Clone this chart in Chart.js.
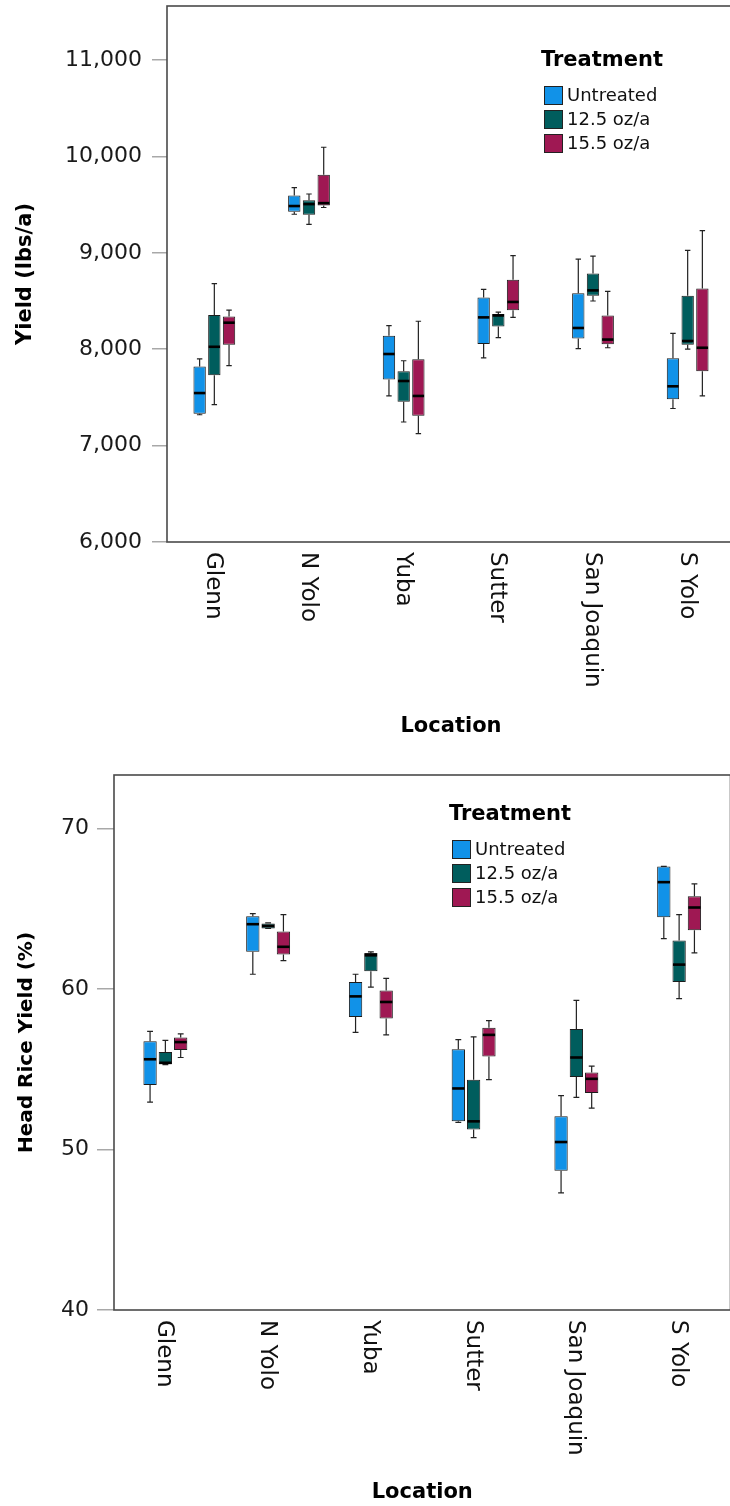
<!DOCTYPE html>
<html><head><meta charset="utf-8">
<script src="https://cdn.jsdelivr.net/npm/chart.js@4.4.1/dist/chart.umd.min.js"></script>
<style>
html,body{margin:0;padding:0;background:#fff;overflow:hidden;width:730px;height:1506px;position:relative;}
canvas{position:absolute;left:0;display:block;}
#c1{top:0}
#c2{top:755px}
</style></head><body>
<canvas id="c1" width="740" height="755"></canvas>
<canvas id="c2" width="740" height="751"></canvas>
<script>
// ---------- data ----------
const locations = ['Glenn', 'N Yolo', 'Yuba', 'Sutter', 'San Joaquin', 'S Yolo'];
const treatments = ['Untreated', '12.5 oz/a', '15.5 oz/a'];

// Chart 1: Yield (lbs/a)
const yieldTicks = [6000, 7000, 8000, 9000, 10000, 11000];
const yieldUntreatedMin = [7320, 9400, 7515, 7910, 8005, 7385];
const yieldUntreatedQ1  = [7330, 9425, 7685, 8055, 8110, 7480];
const yieldUntreatedMed = [7545, 9485, 7950, 8330, 8220, 7615];
const yieldUntreatedQ3  = [7820, 9595, 8140, 8535, 8580, 7905];
const yieldUntreatedMax = [7900, 9675, 8245, 8620, 8935, 8165];

const yield125Min = [7425, 9295, 7245, 8120, 8500, 8000];
const yield125Q1  = [7730, 9395, 7455, 8235, 8555, 8045];
const yield125Med = [8025, 9505, 7670, 8350, 8610, 8085];
const yield125Q3  = [8355, 9545, 7770, 8365, 8785, 8555];
const yield125Max = [8680, 9610, 7880, 8385, 8965, 9025];

const yield155Min = [7830, 9470, 7125, 8330, 8015, 7515];
const yield155Q1  = [8045, 9490, 7310, 8405, 8050, 7770];
const yield155Med = [8275, 9515, 7515, 8490, 8100, 8015];
const yield155Q3  = [8340, 9810, 7895, 8720, 8350, 8630];
const yield155Max = [8405, 10095, 8290, 8970, 8600, 9230];

// Chart 2: Head Rice Yield (%)
const hryTicks = [40, 50, 60, 70];
const hryUntreatedMin = [52.96, 60.93, 57.30, 51.69, 47.30, 63.15];
const hryUntreatedQ1  = [54.03, 62.33, 58.26, 51.76, 48.68, 64.49];
const hryUntreatedMed = [55.63, 64.05, 59.55, 53.81, 50.47, 66.67];
const hryUntreatedQ3  = [56.75, 64.54, 60.44, 56.26, 52.07, 67.65];
const hryUntreatedMax = [57.37, 64.71, 60.93, 56.86, 53.36, 67.65];

const hry125Min = [55.30, 63.78, 60.13, 50.75, 53.25, 59.41];
const hry125Q1  = [55.32, 63.78, 61.11, 51.25, 54.52, 60.44];
const hry125Med = [55.41, 63.94, 62.11, 51.76, 55.74, 61.53];
const hry125Q3  = [56.08, 64.09, 62.26, 54.36, 57.52, 63.04];
const hry125Max = [56.81, 64.13, 62.33, 57.03, 59.30, 64.65];

const hry155Min = [55.74, 61.78, 57.15, 54.36, 52.58, 62.26];
const hry155Q1  = [56.21, 62.16, 58.17, 55.81, 53.52, 63.67];
const hry155Med = [56.70, 62.64, 59.20, 57.15, 54.41, 65.09];
const hry155Q3  = [56.99, 63.60, 59.91, 57.59, 54.81, 65.79];
const hry155Max = [57.21, 64.65, 60.67, 58.04, 55.20, 66.56];

// ---------- styles ----------
const boxColors = ['#1192e8', '#005d5d', '#9f1853'];
Chart.defaults.font.family = '"DejaVu Sans", sans-serif';
Chart.defaults.color = '#1a1a1a';

function buildDatasets(groups) {
  return groups.map((g, k) => ({
    label: treatments[k],
    data: g.q1.map((v, i) => [v, g.q3[i]]),
    lo: g.min, med: g.med, hi: g.max,
    backgroundColor: boxColors[k],
    borderColor: '#1c1c1c',
    borderWidth: 1,
    borderSkipped: false
  }));
}

// whiskers + medians drawn through the y scale
const boxWhiskers = {
  id: 'boxWhiskers',
  afterDatasetsDraw(chart) {
    const ctx = chart.ctx, ys = chart.scales.y;
    chart.data.datasets.forEach((ds, di) => {
      const meta = chart.getDatasetMeta(di);
      meta.data.forEach((bar, i) => {
        const x = bar.x, w = bar.width, cap = w * 0.22;
        const pHi = ys.getPixelForValue(ds.hi[i]);
        const pLo = ys.getPixelForValue(ds.lo[i]);
        const pTop = ys.getPixelForValue(ds.data[i][1]);
        const pBot = ys.getPixelForValue(ds.data[i][0]);
        const pMed = ys.getPixelForValue(ds.med[i]);
        ctx.save();
        ctx.strokeStyle = '#222';
        ctx.lineWidth = 1.2;
        ctx.beginPath();
        ctx.moveTo(x, pTop); ctx.lineTo(x, pHi);
        ctx.moveTo(x - cap, pHi); ctx.lineTo(x + cap, pHi);
        ctx.moveTo(x, pBot); ctx.lineTo(x, pLo);
        ctx.moveTo(x - cap, pLo); ctx.lineTo(x + cap, pLo);
        ctx.stroke();
        ctx.strokeStyle = '#000';
        ctx.lineWidth = 2.6;
        ctx.beginPath();
        ctx.moveTo(x - w / 2 + 0.5, pMed); ctx.lineTo(x + w / 2 - 0.5, pMed);
        ctx.stroke();
        ctx.restore();
      });
    });
  }
};

// plot frame
const frame = {
  id: 'frame',
  afterDraw(chart) {
    const {ctx, chartArea: a} = chart;
    ctx.save();
    ctx.strokeStyle = '#4a4a4a';
    ctx.lineWidth = 1.6;
    ctx.strokeRect(a.left, a.top, a.right - a.left, a.bottom - a.top);
    ctx.restore();
  }
};

// rotated (clockwise) category labels
const xLabels = {
  id: 'xLabels',
  afterDraw(chart, args, o) {
    const ctx = chart.ctx, xs = chart.scales.x, a = chart.chartArea;
    ctx.save();
    ctx.font = o.size + 'px "DejaVu Sans"';
    ctx.fillStyle = '#111';
    ctx.textAlign = 'left';
    ctx.textBaseline = 'middle';
    chart.data.labels.forEach((lab, i) => {
      const px = xs.getPixelForValue(i);
      ctx.save();
      ctx.translate(px + o.dx, a.bottom + o.gap);
      ctx.rotate(Math.PI / 2);
      ctx.fillText(lab, 0, 0);
      ctx.restore();
    });
    ctx.restore();
  }
};

// legend inside the plot
const boxLegend = {
  id: 'boxLegend',
  afterDraw(chart, args, o) {
    const ctx = chart.ctx;
    ctx.save();
    ctx.fillStyle = '#000';
    ctx.textAlign = 'left';
    ctx.textBaseline = 'middle';
    ctx.font = 'bold ' + o.titleSize + 'px "DejaVu Sans"';
    ctx.fillText(o.title, o.x - 3, o.titleY);
    ctx.font = o.size + 'px "DejaVu Sans"';
    chart.data.datasets.forEach((ds, k) => {
      const top = o.y + k * o.step;
      ctx.fillStyle = ds.backgroundColor;
      ctx.strokeStyle = '#222';
      ctx.lineWidth = 1;
      ctx.fillRect(o.x, top, o.box, o.box);
      ctx.strokeRect(o.x + 0.5, top + 0.5, o.box - 1, o.box - 1);
      ctx.fillStyle = '#111';
      ctx.fillText(ds.label, o.x + o.box + 4, top + o.box / 2 + 1);
    });
    ctx.restore();
  }
};

function makeChart(id, c) {
  return new Chart(document.getElementById(id), {
    type: 'bar',
    data: { labels: locations, datasets: buildDatasets(c.groups) },
    options: {
      responsive: false,
      animation: false,
      layout: { padding: { top: c.padTop, right: c.padRight, left: 0, bottom: 0 } },
      datasets: { bar: { categoryPercentage: c.catPct, barPercentage: c.barPct } },
      plugins: {
        legend: { display: false },
        tooltip: { enabled: false },
        xLabels: { size: 23, gap: 10, dx: -1 },
        boxLegend: c.legend
      },
      scales: {
        x: {
          afterFit: s => { s.height = c.xHeight; s.paddingLeft = 0; s.paddingRight = 0; },
          ticks: { display: false },
          grid: { display: false },
          border: { display: false },
          title: { display: true, text: 'Location', color: '#000',
                   font: { size: 21, weight: 'bold' }, padding: { top: 0, bottom: c.xTitlePad } }
        },
        y: {
          min: c.min, max: c.max,
          afterBuildTicks: s => { s.ticks = c.ticks.map(v => ({ value: v })); },
          afterFit: s => { s.width = c.yWidth; s.paddingTop = 0; s.paddingBottom = 0; },
          ticks: { font: { size: 22 }, color: '#1a1a1a', padding: c.tickPad,
                   callback: v => Number(v).toLocaleString('en-US') },
          grid: { drawOnChartArea: false, drawTicks: true, tickLength: c.tickLen,
                  color: '#a8a8a8', lineWidth: 1.5 },
          border: { display: false },
          title: { display: true, text: c.yTitle, color: '#000',
                   font: { size: c.yTitleSize, weight: 'bold' }, padding: { top: c.yTitlePad, bottom: 0 } }
        }
      }
    },
    plugins: [boxWhiskers, frame, xLabels, boxLegend]
  });
}

makeChart('c1', {
  groups: [
    { min: yieldUntreatedMin, q1: yieldUntreatedQ1, med: yieldUntreatedMed, q3: yieldUntreatedQ3, max: yieldUntreatedMax },
    { min: yield125Min, q1: yield125Q1, med: yield125Med, q3: yield125Q3, max: yield125Max },
    { min: yield155Min, q1: yield155Q1, med: yield155Med, q3: yield155Q3, max: yield155Max }
  ],
  min: 6000, max: 11560, ticks: yieldTicks,
  padTop: 6, padRight: 5, yWidth: 167, xHeight: 213, xTitlePad: 15.7,
  tickPad: 10, tickLen: 15, catPct: 0.466, barPct: 0.84,
  yTitle: 'Yield (lbs/a)', yTitleSize: 21, yTitlePad: 13,
  legend: { title: 'Treatment', titleSize: 21, titleY: 61, x: 544, y: 86, step: 24, box: 19, size: 18 }
});

makeChart('c2', {
  groups: [
    { min: hryUntreatedMin, q1: hryUntreatedQ1, med: hryUntreatedMed, q3: hryUntreatedQ3, max: hryUntreatedMax },
    { min: hry125Min, q1: hry125Q1, med: hry125Med, q3: hry125Q3, max: hry125Max },
    { min: hry155Min, q1: hry155Q1, med: hry155Med, q3: hry155Q3, max: hry155Max }
  ],
  min: 40, max: 73.35, ticks: hryTicks,
  padTop: 20, padRight: 9.5, yWidth: 114, xHeight: 196, xTitlePad: 0.5,
  tickPad: 8, tickLen: 17, catPct: 0.447, barPct: 0.87,
  yTitle: 'Head Rice Yield (%)', yTitleSize: 20, yTitlePad: 14.5,
  legend: { title: 'Treatment', titleSize: 21, titleY: 60, x: 452, y: 85, step: 24, box: 19, size: 18 }
});
</script>
</body></html>
